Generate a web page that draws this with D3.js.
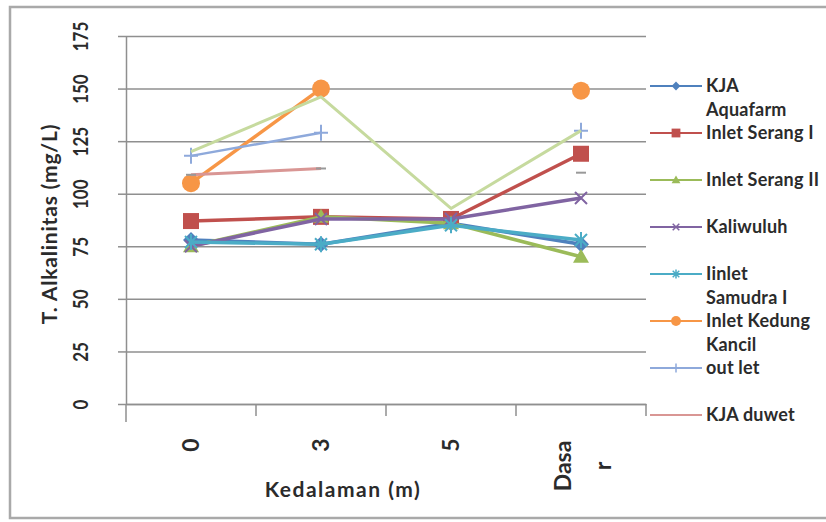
<!DOCTYPE html>
<html>
<head>
<meta charset="utf-8">
<script src="https://cdn.jsdelivr.net/npm/d3@7"></script>
<style>
  body { margin: 0; background: #fff; }
  text { font-family: Lato, "Open Sans", sans-serif; font-weight: bold; fill: #2b2b2b; }
</style>
</head>
<body>
<svg></svg>
<script>
// kedalaman (x categories) and y ticks
var depthLabels = ["0", "3", "5", "Dasar"];
var yTicks = [0, 25, 50, 75, 100, 125, 150, 175];

// series values (null = no point)
var kjaAquafarm    = [78, 76, 86, 76];
var inletSerang1   = [87, 89, 88, 119];
var inletSerang2   = [75, 89, 86, 70];
var kaliwuluh      = [75, 88, 88, 98];
var iinletSamudra1 = [77, 76, 85, 78];
var inletKedung    = [105, 150, null, 149];
var outLet         = [118, 129, null, 130];
var kjaDuwet       = [109, 112, null, 110];
var seriesLain     = [120, 146, 93, 130];   // pale green line, not in legend

var seriesNames = ["KJA\nAquafarm", "Inlet Serang I", "Inlet Serang II", "Kaliwuluh",
                   "Iinlet\nSamudra I", "Inlet Kedung\nKancil", "out let", "KJA duwet", ""];
var seriesValues = [kjaAquafarm, inletSerang1, inletSerang2, kaliwuluh,
                    iinletSamudra1, inletKedung, outLet, kjaDuwet, seriesLain];
var seriesColors = ["#4F81BD", "#C0504D", "#9BBB59", "#8064A2",
                    "#4BACC6", "#F79646", "#8EA9DB", "#D99694", "#C6DA9E"];
var seriesMarkers = ["diamond", "square", "triangle", "times",
                     "asterisk", "circle", "plus", "dash", "none"];
var seriesWidths = [3.5, 3.5, 3.5, 3.5, 3.5, 3.5, 2.5, 3, 3];

var width = 826;
var height = 522;
var svg = d3.select("svg").attr("width", width).attr("height", height);

var margin = {top: 36, right: 180, bottom: 118, left: 126};
var plotW = width - margin.left - margin.right,
    plotH = height - margin.top - margin.bottom;

var xScale = d3.scaleBand().domain(depthLabels).range([margin.left, margin.left + plotW]);
var yScale = d3.scaleLinear().domain([0, 175]).range([margin.top + plotH, margin.top]);

// chart border
svg.append("rect")
    .attr("x", 10).attr("y", 7)
    .attr("width", 840).attr("height", 511)
    .attr("fill", "#fff")
    .attr("stroke", "#a9a9a9")
    .attr("stroke-width", 2.5);

// gridlines
var grid = svg.append("g")
    .attr("transform", "translate(" + margin.left + ",0)")
    .call(d3.axisLeft(yScale).tickValues(yTicks).tickSize(-plotW).tickFormat(""));
grid.select(".domain").remove();
grid.selectAll("line").attr("stroke", "#8f8f8f").attr("stroke-width", 1.5);

// y axis
var yAxisG = svg.append("g")
    .attr("transform", "translate(" + margin.left + ",0)")
    .call(d3.axisLeft(yScale).tickValues(yTicks).tickSize(8).tickSizeOuter(0));
yAxisG.select(".domain").attr("stroke", "#8f8f8f").attr("stroke-width", 1.5);
yAxisG.selectAll("line").attr("stroke", "#8f8f8f").attr("stroke-width", 1.5);
yAxisG.selectAll("text")
    .attr("x", null).attr("dy", "0.35em")
    .attr("transform", "translate(-45,0) rotate(-90) scale(1,1.25)")
    .attr("text-anchor", "middle")
    .style("font-size", "17px")
    .style("font-family", "Lato, sans-serif")
    .attr("fill", "#2b2b2b");

// x axis
var xAxisG = svg.append("g")
    .attr("transform", "translate(0," + (margin.top + plotH) + ")")
    .call(d3.axisBottom(xScale).tickSize(0).tickSizeOuter(0));
xAxisG.select(".domain").attr("stroke", "#8f8f8f").attr("stroke-width", 1.5);

// tick marks on band edges
var edges = depthLabels.map(function(d) { return xScale(d); }).concat([margin.left + plotW]);
xAxisG.selectAll(".edge")
    .data(edges)
    .enter().append("line")
    .attr("x1", function(d) { return d; }).attr("x2", function(d) { return d; })
    .attr("y1", 0).attr("y2", function(d, i) { return i == 0 ? 18 : 12; })
    .attr("stroke", "#8f8f8f").attr("stroke-width", 1.5);

// rotated tick labels, "Dasar" wraps like in the original
xAxisG.selectAll(".tick").each(function(d) {
  var g = d3.select(this);
  g.select("text").remove();
  var parts = d.length > 4 ? [d.slice(0, 4), d.slice(4)] : [d];
  parts.forEach(function(p, i) {
    var dx = parts.length > 1 ? (i - (parts.length - 1) / 2) * 40 + 2 : 0;
    var cy = parts.length > 1 ? 62 : 41;
    g.append("text")
        .attr("transform", "translate(" + dx + "," + cy + ") rotate(-90)")
        .attr("dy", "0.35em")
        .attr("text-anchor", "middle")
        .style("font-size", "23px")
        .text(p);
  });
});

// axis titles
svg.append("text")
    .attr("x", 343).attr("y", 497)
    .attr("text-anchor", "middle")
    .style("font-size", "21px")
    .style("letter-spacing", "1.5px")
    .text("Kedalaman (m)");

svg.append("text")
    .attr("transform", "translate(50," + (margin.top + plotH / 2 + 4) + ") rotate(-90)")
    .attr("dy", "0.35em")
    .attr("text-anchor", "middle")
    .style("font-size", "21px")
    .style("letter-spacing", "0.8px")
    .text("T. Alkalinitas (mg/L)");

// marker shapes
function markerPath(type, k) {
  var s = k || 1;
  if (type == "diamond") return "M0," + (-8*s) + "L" + (8*s) + ",0L0," + (8*s) + "L" + (-8*s) + ",0Z";
  if (type == "square") return "M" + (-8*s) + "," + (-8*s) + "h" + (16*s) + "v" + (16*s) + "h" + (-16*s) + "Z";
  if (type == "triangle") return "M0," + (-8*s) + "L" + (8*s) + "," + (6*s) + "L" + (-8*s) + "," + (6*s) + "Z";
  if (type == "times") return "M" + (-6*s) + "," + (-6*s) + "L" + (6*s) + "," + (6*s) + "M" + (-6*s) + "," + (6*s) + "L" + (6*s) + "," + (-6*s);
  if (type == "asterisk") return "M" + (-6*s) + "," + (-6*s) + "L" + (6*s) + "," + (6*s) + "M" + (-6*s) + "," + (6*s) + "L" + (6*s) + "," + (-6*s) + "M0," + (-8*s) + "L0," + (8*s);
  if (type == "circle") return d3.symbol().type(d3.symbolCircle).size(Math.PI * 81 * s * s)();
  if (type == "plus") return "M" + (-7*s) + ",0L" + (7*s) + ",0M0," + (-8*s) + "L0," + (8*s);
  if (type == "dash") return "M" + (-5*s) + ",0L" + (5*s) + ",0";
  return "";
}
function isFilled(type) {
  return type == "diamond" || type == "square" || type == "triangle" || type == "circle";
}

var line = d3.line()
    .defined(function(d) { return d != null; })
    .x(function(d, i) { return xScale(depthLabels[i]) + xScale.bandwidth() / 2; })
    .y(function(d) { return yScale(d); });

seriesValues.forEach(function(vals, si) {
  var col = seriesColors[si];
  var mk = seriesMarkers[si];
  var g = svg.append("g").attr("class", "series");
  g.append("path")
      .attr("d", line(vals))
      .attr("fill", "none")
      .attr("stroke", col)
      .attr("stroke-width", seriesWidths[si])
      .attr("stroke-linejoin", "round");
  if (mk == "none") return;
  g.selectAll(".mark")
      .data(vals.map(function(v, i) { return {v: v, i: i}; }).filter(function(d) { return d.v != null; }))
      .enter().append("path")
      .attr("transform", function(d) {
        return "translate(" + (xScale(depthLabels[d.i]) + xScale.bandwidth() / 2) + "," + yScale(d.v) + ")";
      })
      .attr("d", markerPath(mk))
      .attr("fill", isFilled(mk) ? col : "none")
      .attr("stroke", isFilled(mk) ? "none" : (mk == "dash" ? "#999" : col))
      .attr("stroke-width", 2);
});

// legend
var legend = svg.append("g");
seriesNames.forEach(function(name, i) {
  if (name == "") return;
  var ly = 86 + i * 47;
  var col = seriesColors[i];
  var mk = seriesMarkers[i];
  legend.append("line")
      .attr("x1", 650).attr("x2", 702)
      .attr("y1", ly).attr("y2", ly)
      .attr("stroke", col).attr("stroke-width", 2);
  if (mk != "dash") {
    legend.append("path")
        .attr("transform", "translate(676," + ly + ")")
        .attr("d", markerPath(mk, 0.55))
        .attr("fill", isFilled(mk) ? col : "none")
        .attr("stroke", isFilled(mk) ? "none" : col)
        .attr("stroke-width", 1.5);
  }
  var t = legend.append("text")
      .attr("x", 706).attr("y", ly + 6)
      .style("font-size", "18px")
      .style("letter-spacing", "0.2px");
  name.split("\n").forEach(function(part, j) {
    t.append("tspan").attr("x", 706).attr("dy", j == 0 ? 0 : 24).text(part);
  });
});
</script>
</body>
</html>
